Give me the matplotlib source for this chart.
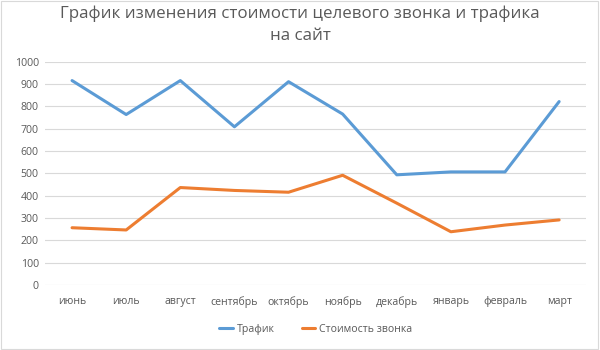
import matplotlib.pyplot as plt
from matplotlib.patches import Rectangle

months = ["июнь", "июль", "август", "сентябрь", "октябрь", "ноябрь",
          "декабрь", "январь", "февраль", "март"]
traffic = [915, 763, 915, 708, 910, 765, 493, 506, 506, 821]
call_cost = [256, 246, 436, 423, 415, 491, 366, 238, 268, 291]

plt.rcParams['font.family'] = ['Open Sans', 'DejaVu Sans']

fig = plt.figure(figsize=(6, 3.5), dpi=100)
ax = fig.add_axes([0.075, 0.186, 0.902, 0.638])

x = range(len(months))
ax.plot(x, traffic, color="#5B9BD5", lw=2.2, label="Трафик", solid_capstyle="round")
ax.plot(x, call_cost, color="#ED7D31", lw=2.2, label="Стоимость звонка", solid_capstyle="round")

ax.set_xlim(-0.5, len(months) - 0.5)
ax.set_ylim(0, 1000)
ax.set_yticks(range(0, 1001, 100))
ax.set_xticks(list(x))
ax.set_xticklabels(months)
ax.tick_params(length=0, labelsize=7.6, labelcolor="#595959")
ax.tick_params(axis="x", pad=8)
ax.tick_params(axis="y", pad=4.5)
ax.grid(axis="y", color="#D9D9D9", lw=0.8)
ax.set_axisbelow(True)
for s in ax.spines.values():
    s.set_visible(False)

fig.text(0.5, 0.985, "График изменения стоимости целевого звонка и трафика\nна сайт",
         ha="center", va="top", fontsize=12.2, color="#595959", linespacing=1.5)

ax.legend(loc="center", bbox_to_anchor=(0.5, -0.2), ncol=2, frameon=False,
          fontsize=7.6, labelcolor="#595959", handlelength=1.3, handletextpad=0.3,
          columnspacing=2.6)

fig.patches.append(Rectangle((0.001, 0.002), 0.996, 0.995, transform=fig.transFigure,
                             fill=False, edgecolor="#D9D9D9", lw=0.8))

fig.savefig("out.png", dpi=100)
